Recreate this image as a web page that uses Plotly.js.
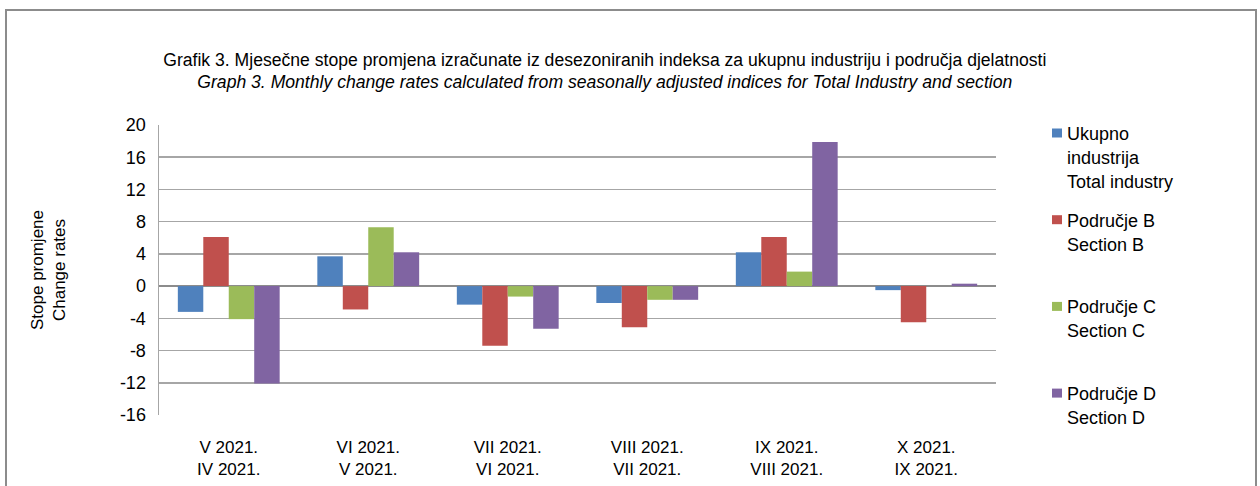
<!DOCTYPE html>
<html><head><meta charset="utf-8">
<script src="https://cdn.plot.ly/plotly-3.0.1.min.js"></script>
<style>
html,body{margin:0;padding:0;background:#fff;}
#frame{position:absolute;left:5px;top:9px;width:1248px;height:520px;border:2px solid #8c8c8c;}
#chart{position:absolute;left:0;top:0;width:1260px;height:486px;}
</style></head>
<body>
<div id="frame"></div>
<div id="chart"></div>
<script>
const categories = ["V 2021.<br>IV 2021.","VI 2021.<br>V 2021.","VII 2021.<br>VI 2021.","VIII 2021.<br>VII 2021.","IX 2021.<br>VIII 2021.","X 2021.<br>IX 2021."];
const totalIndustry = [-3.2, 3.7, -2.3, -2.1, 4.2, -0.5];
const sectionB = [6.1, -2.9, -7.4, -5.1, 6.1, -4.5];
const sectionC = [-4.1, 7.3, -1.3, -1.7, 1.8, 0.0];
const sectionD = [-12.1, 4.2, -5.3, -1.7, 17.9, 0.3];
const seriesNames = [["Ukupno","industrija","Total industry"],["Područje B","Section B"],["Područje C","Section C"],["Područje D","Section D"]];
const yTicks = [-16,-12,-8,-4,0,4,8,12,16,20];

const colors = ["#4F81BD","#C0504D","#9BBB59","#8064A2"];
const vals = [totalIndustry, sectionB, sectionC, sectionD];
const traces = vals.map((v,i)=>({
  type:'bar', x:categories, y:v, name:seriesNames[i].join(' '),
  marker:{color:colors[i], line:{width:0}}, showlegend:false
}));

// plot area in pixels
const W=1260, H=486, L=159, R=264, T=125, B=71;
const pw=W-L-R, ph=H-T-B;
const px2x = p => (p-L)/pw;
const py2y = p => 1-(p-T)/ph;

const annotations=[], shapes=[];
seriesNames.forEach((lines,i)=>{
  const y0 = 133 + i*86.7;
  shapes.push({type:'rect', xref:'paper', yref:'paper',
    x0:px2x(1052), x1:px2x(1062), y0:py2y(y0-4.5), y1:py2y(y0+4.5),
    fillcolor:colors[i], line:{width:0}});
  lines.forEach((t,j)=>{
    annotations.push({xref:'paper', yref:'paper', x:px2x(1065), y:py2y(y0+j*24+1),
      xanchor:'left', yanchor:'middle', text:t, showarrow:false,
      font:{size:18, color:'#000'}});
  });
});

const layout = {
  width:W, height:H,
  paper_bgcolor:'rgba(0,0,0,0)', plot_bgcolor:'rgba(0,0,0,0)',
  margin:{l:L, r:R, t:T, b:B},
  font:{family:'Liberation Sans, Arial, sans-serif', color:'#000'},
  barmode:'group', bargap:0.27, bargroupgap:0,
  title:{text:'Grafik 3. Mjesečne stope promjena izračunate iz desezoniranih indeksa za ukupnu industriju i područja djelatnosti<br><i>Graph 3. Monthly change rates calculated from seasonally adjusted indices for Total Industry and section</i>',
    font:{family:'Liberation Sans, Arial', size:17.6, color:'#000'},
    x:0.48, xref:'container', xanchor:'center', y:0.865, yref:'container', yanchor:'middle'},
  xaxis:{tickfont:{size:17}, showline:false, showgrid:false, ticks:'', zeroline:false, ticklabelstandoff:20},
  yaxis:{range:[-16,20], tickvals:yTicks, ticktext:yTicks.map(String), tickfont:{size:18},
    showgrid:true, gridcolor:'#a6a6a6', gridwidth:1.5, zeroline:true, zerolinecolor:'#8c8c8c', zerolinewidth:2,
    showline:true, linecolor:'#a6a6a6', linewidth:1.5, ticks:'', ticklabelstandoff:8,
    title:{text:'Stope promjene<br>Change rates', font:{size:17}, standoff:50}},
  showlegend:false,
  annotations, shapes
};
Plotly.newPlot('chart', traces, layout, {displayModeBar:false, staticPlot:true});
</script>
</body></html>
